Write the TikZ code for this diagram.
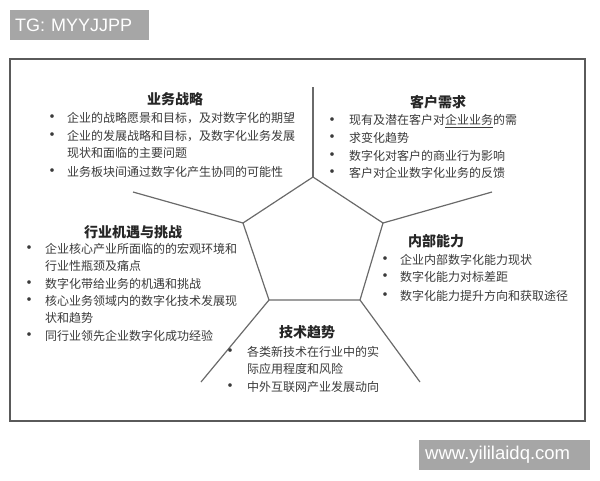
\documentclass[tikz,border=0pt]{standalone}
\usepackage{fontspec}
\usepackage{xcolor}
\setmainfont{Liberation Sans}
\newfontfamily\cjk{Noto Sans CJK SC}
\definecolor{txtgray}{HTML}{3A3A3A}
\definecolor{linegray}{HTML}{6A6A6A}
\definecolor{markgray}{HTML}{A6A6A6}

\begin{document}
\begin{tikzpicture}[x=1pt, y=-1pt,
    ttl/.style={inner sep=0pt, font=\cjk\bfseries\fontsize{14}{16}\selectfont, text=black!85},
    item/.style={anchor=west, inner sep=0pt, font=\cjk\fontsize{12}{14}\selectfont, text=txtgray},
    dot/.style={inner sep=0pt, font=\cjk\bfseries\fontsize{13}{14}\selectfont, text=txtgray},
    spoke/.style={draw=linegray, line width=1.2pt},
    wmark/.style={anchor=north west, fill=markgray, text=white, align=left,
        minimum height=30pt, inner ysep=0pt, font=\fontsize{18}{20}\selectfont}]

        \useasboundingbox (0,0) rectangle (600,480);

        % Watermarks
        \node[wmark, inner xsep=5pt, text width=129pt] (tg) at (10,10) {TG: MYYJJPP};
        \node[wmark, inner xsep=6pt, text width=159pt, font=\fontsize{18.5}{20}\selectfont] (web) at (419,440) {www.yililaidq.com};

        % Outer frame
        \draw[linegray!85!black, line width=1.8pt] (10,59) rectangle (585,421);

        % Pentagon
        \coordinate (p1) at (313,177);
        \coordinate (p2) at (383,223);
        \coordinate (p3) at (360,300);
        \coordinate (p4) at (269,300);
        \coordinate (p5) at (243,223);
        \draw[spoke] (p1) -- (p2) -- (p3) -- (p4) -- (p5) -- cycle;

        % Spokes
        \coordinate (s1) at (313,87);
        \coordinate (s2) at (492,192);
        \coordinate (s3) at (420,382);
        \coordinate (s4) at (201,382);
        \coordinate (s5) at (133,192);
        \draw[spoke] (p1) -- (s1);
        \draw[spoke] (p2) -- (s2);
        \draw[spoke] (p3) -- (s3);
        \draw[spoke] (p4) -- (s4);
        \draw[spoke] (p5) -- (s5);

        % Business strategy
        \node[ttl] (ywzl) at (175,99) {业务战略};
        \node[dot] (ywzl1d) at (52,118) {•};
        \node[item] (ywzl1) at (67,118) {企业的战略愿景和目标，及对数字化的期望};
        \node[dot] (ywzl2d) at (52,136) {•};
        \node[item] (ywzl2) at (67,136) {企业的发展战略和目标，及数字化业务发展};
        \node[item] (ywzl2b) at (67,153) {现状和面临的主要问题};
        \node[dot] (ywzl3d) at (52,172) {•};
        \node[item] (ywzl3) at (67,172) {业务板块间通过数字化产生协同的可能性};

        % Customer needs
        \node[ttl] (khxq) at (438,102) {客户需求};
        \node[dot] (khxq1d) at (332,121) {•};
        \node[item] (khxq1) at (349,121) {现有及潜在客户对\underline{企业业务}的需};
        \node[dot] (khxq2d) at (332,138) {•};
        \node[item] (khxq2) at (349,138) {求变化趋势};
        \node[dot] (khxq3d) at (332,156) {•};
        \node[item] (khxq3) at (349,156) {数字化对客户的商业行为影响};
        \node[dot] (khxq4d) at (332,173) {•};
        \node[item] (khxq4) at (349,173) {客户对企业数字化业务的反馈};

        % Industry opportunities and challenges
        \node[ttl] (hyjy) at (133,232) {行业机遇与挑战};
        \node[dot] (hyjy1d) at (29,249) {•};
        \node[item] (hyjy1) at (45,249) {企业核心产业所面临的的宏观环境和};
        \node[item] (hyjy1b) at (45,266) {行业性瓶颈及痛点};
        \node[dot] (hyjy2d) at (29,284) {•};
        \node[item] (hyjy2) at (45,284) {数字化带给业务的机遇和挑战};
        \node[dot] (hyjy3d) at (29,301) {•};
        \node[item] (hyjy3) at (45,301) {核心业务领域内的数字化技术发展现};
        \node[item] (hyjy3b) at (45,318) {状和趋势};
        \node[dot] (hyjy4d) at (29,336) {•};
        \node[item] (hyjy4) at (45,336) {同行业领先企业数字化成功经验};

        % Internal capability
        \node[ttl] (nbnl) at (436,241) {内部能力};
        \node[dot] (nbnl1d) at (385,260) {•};
        \node[item] (nbnl1) at (400,260) {企业内部数字化能力现状};
        \node[dot] (nbnl2d) at (385,277) {•};
        \node[item] (nbnl2) at (400,277) {数字化能力对标差距};
        \node[dot] (nbnl3d) at (385,296) {•};
        \node[item] (nbnl3) at (400,296) {数字化能力提升方向和获取途径};

        % Technology trends
        \node[ttl] (jsqs) at (307,332) {技术趋势};
        \node[dot] (jsqs1d) at (230,352) {•};
        \node[item] (jsqs1) at (247,352) {各类新技术在行业中的实};
        \node[item] (jsqs1b) at (247,369) {际应用程度和风险};
        \node[dot] (jsqs2d) at (230,387) {•};
        \node[item] (jsqs2) at (247,387) {中外互联网产业发展动向};
    \end{tikzpicture}
\end{document}
